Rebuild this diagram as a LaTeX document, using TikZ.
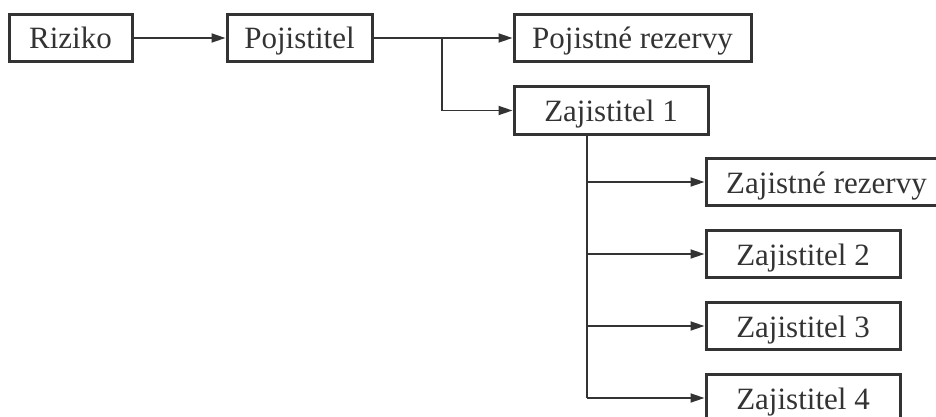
\documentclass[tikz,border=0pt]{standalone}
\usepackage{fontspec}
\setmainfont{Liberation Serif}
\usetikzlibrary{arrows.meta}
\definecolor{ink}{HTML}{333333}
\tikzset{
  box/.style={draw=ink, line width=3pt, text=ink, inner sep=0pt,
    minimum height=47pt, text height=25pt, text depth=3pt,
    font=\fontsize{31}{36}\selectfont},
  link/.style={draw=ink, line width=1.8pt,
    -{Triangle[length=14pt,width=9pt]}},
  trunk/.style={draw=ink, line width=1.8pt}
}
\begin{document}
\begin{tikzpicture}[x=1pt,y=-1pt]
  \useasboundingbox (0,0) rectangle (936,417);
  % boxes
  \node[box, minimum width=123pt] (riz) at (70.5,38) {Riziko};
  \node[box, minimum width=145pt] (poj) at (299.5,38) {Pojistitel};
  \node[box, minimum width=237pt] (prez) at (632.5,38) {Pojistné rezervy};
  \node[box, minimum width=194pt] (z1) at (611,110.5) {Zajistitel 1};
  \node[box, minimum width=241pt] (zrez) at (826.5,182) {Zajistné rezervy};
  \node[box, minimum width=194pt] (z2) at (803,254) {Zajistitel 2};
  \node[box, minimum width=194pt] (z3) at (803,326) {Zajistitel 3};
  \node[box, minimum width=194pt] (z4) at (803,398) {Zajistitel 4};
  % branch points
  \coordinate (fork) at (442,38);
  \coordinate (tx) at (587,0);
  % connectors
  \draw[link] (riz) -- (poj);
  \draw[link] (poj) -- (prez);
  \draw[link] (fork) |- (z1.west);
  \draw[trunk] (tx |- z1.south) -- (tx |- z4.west);
  \draw[link] (tx |- zrez.west) -- (zrez.west);
  \draw[link] (tx |- z2.west) -- (z2.west);
  \draw[link] (tx |- z3.west) -- (z3.west);
  \draw[link] (tx |- z4.west) -- (z4.west);
\end{tikzpicture}
\end{document}
